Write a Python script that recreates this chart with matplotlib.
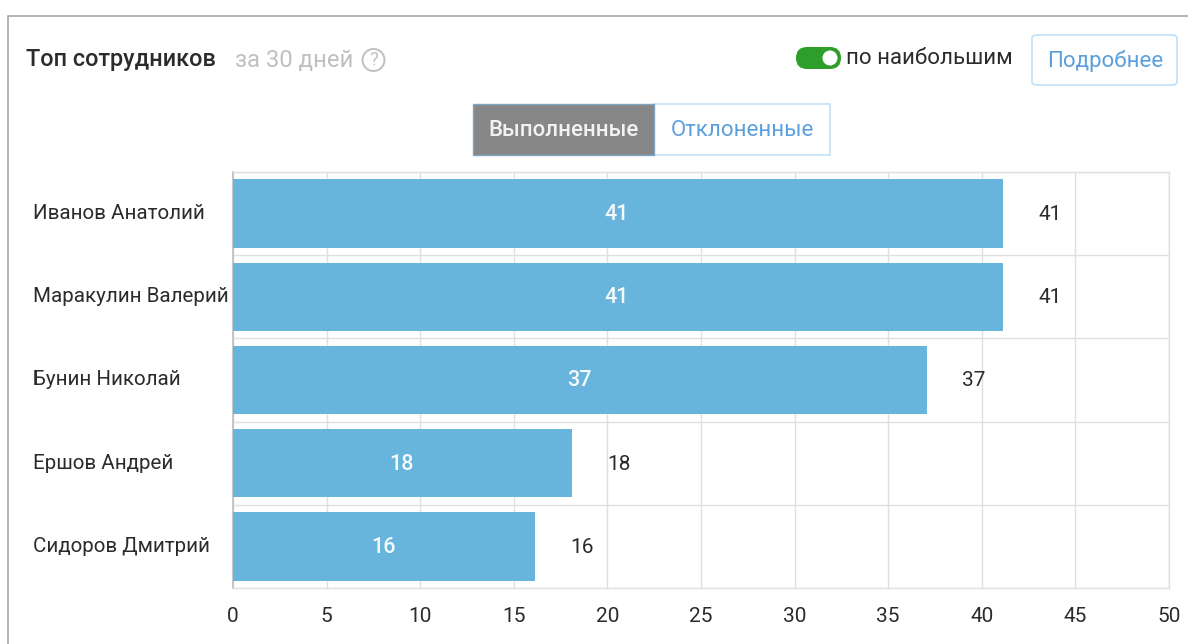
"""Top employees widget: horizontal bars with the widget's header controls."""
import matplotlib
matplotlib.use("Agg")
import matplotlib.pyplot as plt
from matplotlib.patches import Rectangle, FancyBboxPatch, Circle

plt.rcParams['font.family'] = ['Roboto', 'DejaVu Sans']

W, H = 1188, 644

names = ['Иванов Анатолий', 'Маракулин Валерий', 'Бунин Николай', 'Ершов Андрей', 'Сидоров Дмитрий']
values = [41, 41, 37, 18, 16]
bar_lengths = [41.13, 41.13, 37.07, 18.1, 16.15]
x_ticks = [0, 5, 10, 15, 20, 25, 30, 35, 40, 45, 50]

BAR = '#67b5dc'
GRID = '#e0e0e0'
DARK = '#2b2b2b'
BLUE = '#5b9fdc'
LIGHT_BLUE = '#bfe0f7'

fig = plt.figure(figsize=(W / 100, H / 100), dpi=100, facecolor='white')

# overlay in pixel coordinates for the page furniture
ui = fig.add_axes([0, 0, 1, 1], zorder=0)
ui.set_xlim(0, W)
ui.set_ylim(H, 0)
ui.axis('off')

ui.plot([8, 8, W], [H, 16, 16], color='#a0a0a0', lw=1.1, solid_joinstyle='miter')

ui.text(26, 59.5, 'Топ сотрудников', fontsize=16.9, fontweight='medium', color=DARK, va='center')
ui.text(235, 60, 'за 30 дней', fontsize=17.2, color='#c0c0c0', va='center')
ui.add_patch(Circle((373.5, 60), 11, fc='white', ec='#c0c0c0', lw=1.4))
ui.text(373.5, 60, '?', fontsize=13.5, color='#c0c0c0', ha='center', va='center')

# toggle
ui.add_patch(FancyBboxPatch((796, 47), 45, 22, boxstyle='round,pad=0,rounding_size=11',
                            fc='#2e9e2a', ec='none'))
ui.add_patch(Circle((830, 58), 7.5, fc='white', ec='none'))
ui.text(846, 58.5, 'по наибольшим', fontsize=16, color=DARK, va='center')

# details button
ui.add_patch(FancyBboxPatch((1032, 35), 145, 50, boxstyle='round,pad=0,rounding_size=4',
                            fc='white', ec=LIGHT_BLUE, lw=1.2))
ui.text(1105.5, 60.5, 'Подробнее', fontsize=16, color=BLUE, ha='center', va='center')

# tab switch
ui.add_patch(Rectangle((654, 104), 176, 51, fc='white', ec=LIGHT_BLUE, lw=1.2))
ui.add_patch(Rectangle((473, 104), 181, 51, fc='#878787', ec='#7fa6c2', lw=1.0))
ui.text(563.5, 130.5, 'Выполненные', fontsize=16, color='#f2f2f2', fontweight='medium', ha='center', va='center')
ui.text(742, 130.5, 'Отклоненные', fontsize=16, color=BLUE, ha='center', va='center')

# chart
left, right, top, bottom = 233, 1169, 172, 588
ax = fig.add_axes([left / W, 1 - bottom / H, (right - left) / W, (bottom - top) / H], zorder=1)
ax.patch.set_alpha(0)
pos = list(range(len(names)))
ax.set_xlim(0, 50)
ax.set_ylim(len(names) - 0.5, -0.5)

ax.set_axisbelow(True)
ax.set_xticks(x_ticks)
ax.set_yticks([p - 0.5 for p in pos] + [len(names) - 0.5])
ax.grid(True, color=GRID, lw=1.0)
ax.barh(pos, bar_lengths, height=0.82, color=BAR, zorder=3)

for p, name, v, length in zip(pos, names, values, bar_lengths):
    ax.annotate(str(v), (length / 2, p), xytext=(-1, -1), textcoords='offset pixels', color='#f4f9fc',
                fontsize=15.5, fontweight='medium', ha='center', va='center', zorder=4)
    ax.annotate(str(v), (length, p), xytext=(47, -1), textcoords='offset pixels', color=DARK,
                fontsize=15, ha='center', va='center', zorder=4)
    ax.annotate(name, (0, p), xytext=(33 - left, 0), textcoords='offset pixels', color=DARK,
                fontsize=14.8, ha='left', va='center', annotation_clip=False)

ax.tick_params(length=0, labelleft=False)
ax.tick_params(axis='x', labelsize=15, labelcolor=DARK, pad=14)
for side in ('top', 'right', 'bottom'):
    ax.spines[side].set_color(GRID)
    ax.spines[side].set_linewidth(1.0)
ax.spines['left'].set_color('#bdbdbd')
ax.spines['left'].set_linewidth(1.2)

fig.savefig('out.png', dpi=100)
